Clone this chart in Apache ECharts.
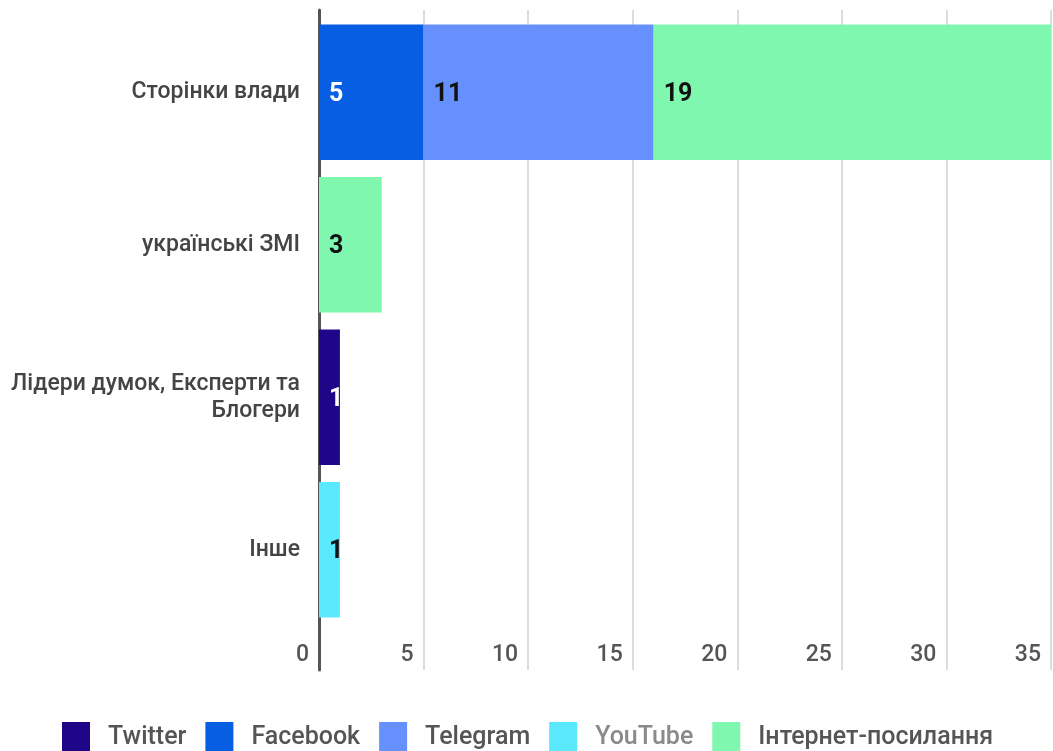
<!DOCTYPE html>
<html>
<head>
<meta charset="utf-8">
<script src="https://cdn.jsdelivr.net/npm/echarts@6/dist/echarts.min.js"></script>
<style>
  html, body { margin: 0; padding: 0; background: #fff; }
  #chart { width: 1053px; height: 751px; }
</style>
</head>
<body>
<div id="chart"></div>
<script>
// Sources of materials, grouped by publisher type and platform
const categories = ['Сторінки влади', 'українські ЗМІ', 'Лідери думок, Експерти та\nБлогери', 'Інше'];
const seriesNames = ['Twitter', 'Facebook', 'Telegram', 'YouTube', 'Інтернет-посилання'];
const twitter  = [null, null, 1, null];
const facebook = [5, null, null, null];
const telegram = [11, null, null, null];
const youtube  = [null, null, null, 1];
const internet = [19, 3, null, null];
const xTicks = [0, 5, 10, 15, 20, 25, 30, 35];

const colors = ['#1f0587', '#075ee3', '#6691fc', '#5ae9fc', '#80f7ae'];
const labelColors = ['#ffffff', '#ffffff', '#111111', '#111111', '#111111'];
const values = [twitter, facebook, telegram, youtube, internet];
const FONT = 'Roboto, "Noto Sans", sans-serif';

const chart = echarts.init(document.getElementById('chart'));

const series = seriesNames.map((name, i) => ({
  name: name,
  type: 'bar',
  stack: 'total',
  xAxisIndex: 0,
  yAxisIndex: 0,
  barCategoryGap: '11%',
  data: values[i],
  itemStyle: { color: colors[i] },
  label: {
    show: true,
    position: 'insideLeft',
    distance: 10,
    offset: [0, 2],
    color: labelColors[i],
    fontFamily: FONT,
    fontSize: 25,
    fontWeight: 'bold'
  },
  z: 3
}));

chart.setOption({
  animation: false,
  color: colors,
  textStyle: { fontFamily: FONT },
  grid: [
    { left: 319, right: 2, top: 16, bottom: 125, containLabel: false, outerBoundsMode: 'none' },
    { left: 319, right: 2, top: 10, bottom: 81, containLabel: false, outerBoundsMode: 'none' }
  ],
  legend: {
    left: 62,
    top: 722,
    padding: 0,
    itemWidth: 28,
    itemHeight: 32,
    itemGap: 19,
    icon: 'rect',
    textStyle: { color: '#555', fontFamily: FONT, fontSize: 25, fontWeight: 500, padding: [0, 0, 0, 13] },
    data: seriesNames.map(n => n === 'YouTube'
      ? { name: n, textStyle: { color: '#8a8a8a' } }
      : { name: n })
  },
  xAxis: [
    { type: 'value', gridIndex: 0, min: xTicks[0], max: xTicks[xTicks.length - 1], interval: 5, show: false },
    {
      type: 'value', gridIndex: 1, min: xTicks[0], max: xTicks[xTicks.length - 1], interval: 5,
      axisLine: { show: false },
      axisTick: { show: false },
      splitLine: { show: true, lineStyle: { color: '#dcdcdc', width: 2 } },
      axisLabel: {
        inside: true,
        margin: 3,
        align: 'right',
        padding: [0, 10, 0, 0],
        color: '#555',
        fontFamily: FONT,
        fontSize: 23,
        fontWeight: 500,
        showMinLabel: true,
        showMaxLabel: true
      }
    }
  ],
  yAxis: [
    {
      type: 'category', gridIndex: 0, data: categories, inverse: true,
      axisLine: { show: false },
      axisTick: { show: false },
      axisLabel: {
        margin: 19,
        color: '#444',
        fontFamily: FONT,
        fontSize: 23,
        fontWeight: 500,
        lineHeight: 27,
        padding: [5, 0, 0, 0],
        align: 'right'
      }
    },
    {
      type: 'value', gridIndex: 1, min: 0, max: 1,
      axisLine: { show: true, lineStyle: { color: '#555', width: 3 } },
      axisTick: { show: false },
      axisLabel: { show: false },
      splitLine: { show: false }
    }
  ],
  series: series
});
</script>
</body>
</html>
